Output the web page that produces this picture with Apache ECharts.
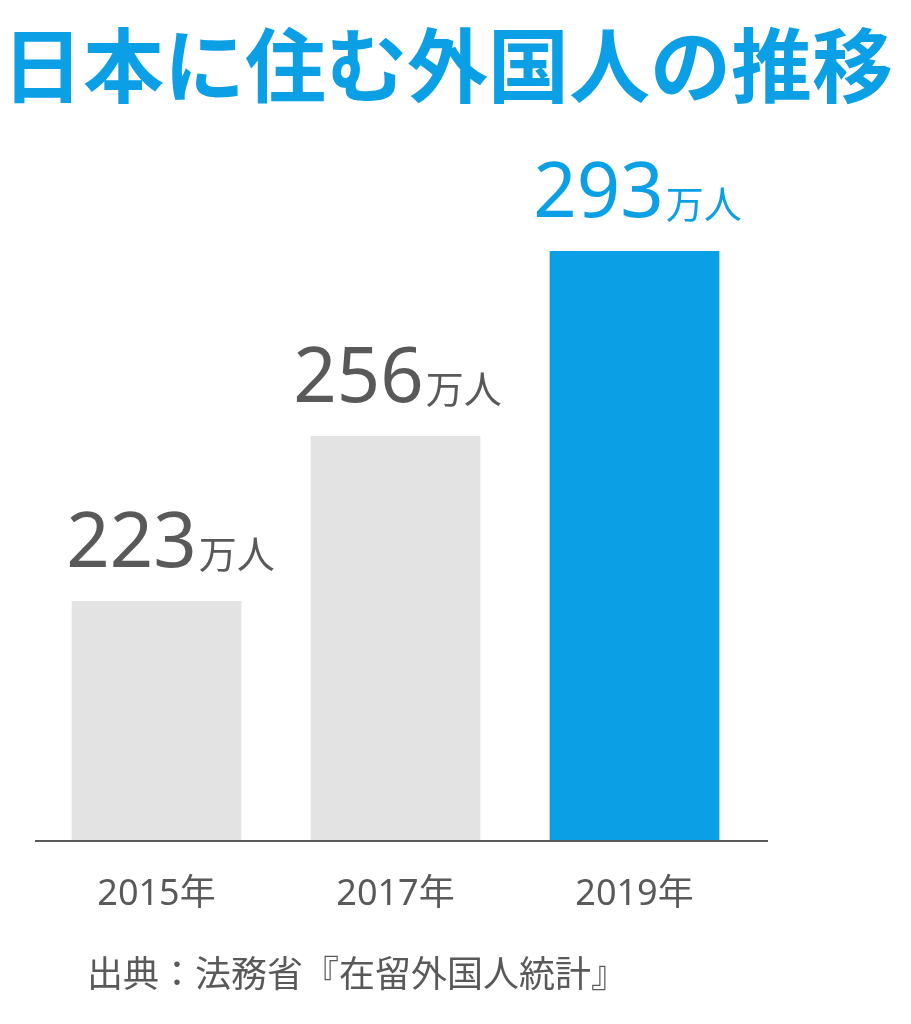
<!DOCTYPE html>
<html>
<head>
<meta charset="utf-8">
<script src="https://cdn.jsdelivr.net/npm/echarts@6/dist/echarts.min.js"></script>
<style>
html,body{margin:0;padding:0;background:#fff;}
#chart{width:911px;height:1024px;}
</style>
</head>
<body>
<div id="chart"></div>
<script>
const categories = ['2015年', '2017年', '2019年'];
const values = [223, 256, 293];
const unitText = '万人';
const titleText = '日本に住む外国人の推移';
const sourceText = '出典：法務省『在留外国人統計』';
const highlightIndex = 2;

const BLUE = '#0ba0e6';
const GRAY_BAR = '#e3e3e3';
const GRAY_TEXT = '#595959';
const labelShift = [14, 2, 3];

const chart = echarts.init(document.getElementById('chart'), null, {renderer: 'canvas'});

const data = values.map((v, i) => {
  const hl = i === highlightIndex;
  return {
    value: v,
    itemStyle: {color: hl ? BLUE : GRAY_BAR},
    label: {
      offset: [labelShift[i], 0],
      rich: {
        n: {fontSize: 76, fontFamily: 'Noto Sans', color: hl ? BLUE : GRAY_TEXT, verticalAlign: 'bottom', lineHeight: 84},
        u: {fontSize: 38, fontFamily: 'Noto Sans CJK JP', color: hl ? BLUE : GRAY_TEXT, verticalAlign: 'bottom', lineHeight: 84, padding: [0, 0, 10, 2]}
      }
    }
  };
});

chart.setOption({
  animation: false,
  backgroundColor: '#fff',
  title: [
    {
      text: titleText, left: -3, top: 20,
      textStyle: {fontSize: 81, fontWeight: 'bold', color: BLUE, fontFamily: 'Noto Sans CJK JP'}
    },
    {
      text: sourceText, left: 82, top: 950,
      textStyle: {fontSize: 36, fontWeight: 'normal', color: GRAY_TEXT, fontFamily: 'Noto Sans CJK JP'}
    }
  ],
  grid: {left: 37, right: 157, top: 216, bottom: 183, containLabel: false},
  xAxis: {
    type: 'category',
    data: categories,
    axisLine: {show: false},
    axisTick: {show: false},
    axisLabel: {
      margin: 36, fontSize: 36, color: GRAY_TEXT,
      fontFamily: 'Noto Sans, Noto Sans CJK JP'
    }
  },
  yAxis: {
    type: 'value', min: 175, max: 300,
    show: false, splitLine: {show: false}
  },
  series: [{
    type: 'bar',
    data: data,
    barCategoryGap: '29%',
    label: {
      show: true, position: 'top', distance: 18,
      formatter: p => '{n|' + p.value + '}{u|' + unitText + '}'
    }
  }],
  graphic: [{
    type: 'line',
    shape: {x1: 35, y1: 841, x2: 768, y2: 841},
    style: {stroke: GRAY_TEXT, lineWidth: 2},
    z: 10
  }]
});
</script>
</body>
</html>
